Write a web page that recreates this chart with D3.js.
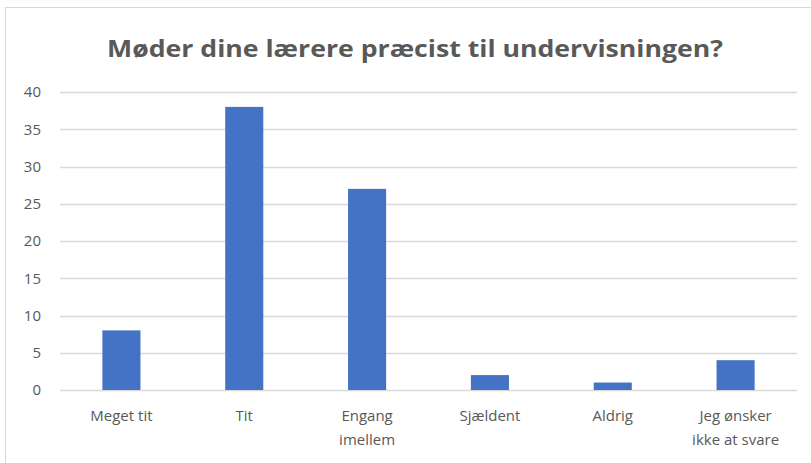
<html>
<head>
<meta charset="utf-8">
<script src="https://cdn.jsdelivr.net/npm/d3@7"></script>
<style>
  body { margin: 0; background: #fff; }
  text { font-family: "Open Sans", "Liberation Sans", sans-serif; fill: #595959; }
</style>
</head>
<body>
<div id="chart"></div>
<script>
// chart data
var title = "Møder dine lærere præcist til undervisningen?";
var categories = ["Meget tit", "Tit", "Engang imellem", "Sjældent", "Aldrig", "Jeg ønsker ikke at svare"];
var labelLines = [["Meget tit"], ["Tit"], ["Engang", "imellem"], ["Sjældent"], ["Aldrig"], ["Jeg ønsker", "ikke at svare"]];
var values = [8, 38, 27, 2, 1, 4];
var yTicks = [0, 5, 10, 15, 20, 25, 30, 35, 40];

var width = 811, height = 463;

var svg = d3.select("#chart").append("svg")
    .attr("width", width)
    .attr("height", height);

// outer chart border (only top/left visible in the crop)
svg.append("rect")
    .attr("x", 5.5).attr("y", 7.5)
    .attr("width", width + 10).attr("height", height + 10)
    .attr("fill", "#fff")
    .attr("stroke", "#d9d9d9");

svg.append("text")
    .attr("x", 415).attr("y", 57)
    .attr("text-anchor", "middle")
    .style("font-size", "23px")
    .style("font-weight", "bold")
    .attr("textLength", 616)
    .attr("lengthAdjust", "spacingAndGlyphs")
    .text(title);

var x = d3.scaleBand()
    .domain(categories)
    .range([60, 797])
    .paddingInner(0.69)
    .paddingOuter(0.345);

var y = d3.scaleLinear()
    .domain([0, 40])
    .range([390, 92]);

// gridlines
svg.selectAll(".grid")
    .data(yTicks)
  .enter().append("line")
    .attr("class", "grid")
    .attr("x1", 60).attr("x2", 797)
    .attr("y1", function(d) { return Math.round(y(d)) + 0.5; })
    .attr("y2", function(d) { return Math.round(y(d)) + 0.5; })
    .attr("stroke", "#d9d9d9")
    .attr("stroke-width", 1.3);

// y labels
svg.selectAll(".ylab")
    .data(yTicks)
  .enter().append("text")
    .attr("class", "ylab")
    .attr("x", 41)
    .attr("y", function(d) { return y(d); })
    .attr("dy", "0.35em")
    .attr("text-anchor", "end")
    .style("font-size", "15px")
    .text(function(d) { return d; });

// bars
svg.selectAll(".bar")
    .data(values)
  .enter().append("rect")
    .attr("class", "bar")
    .attr("x", function(d, i) { return x(categories[i]); })
    .attr("width", x.bandwidth())
    .attr("y", function(d) { return y(d); })
    .attr("height", function(d) { return y(0) - y(d); })
    .attr("fill", "#4472c4");

// x labels
var xl = svg.selectAll(".xlab")
    .data(labelLines)
  .enter().append("text")
    .attr("class", "xlab")
    .attr("text-anchor", "middle")
    .style("font-size", "15px")
    .attr("transform", function(d, i) {
        return "translate(" + (x(categories[i]) + x.bandwidth() / 2) + ",421)";
    });

xl.selectAll("tspan")
    .data(function(d) { return d; })
  .enter().append("tspan")
    .attr("x", 0)
    .attr("y", function(d, j) { return j * 24; })
    .text(function(d) { return d; });
</script>
</body>
</html>
